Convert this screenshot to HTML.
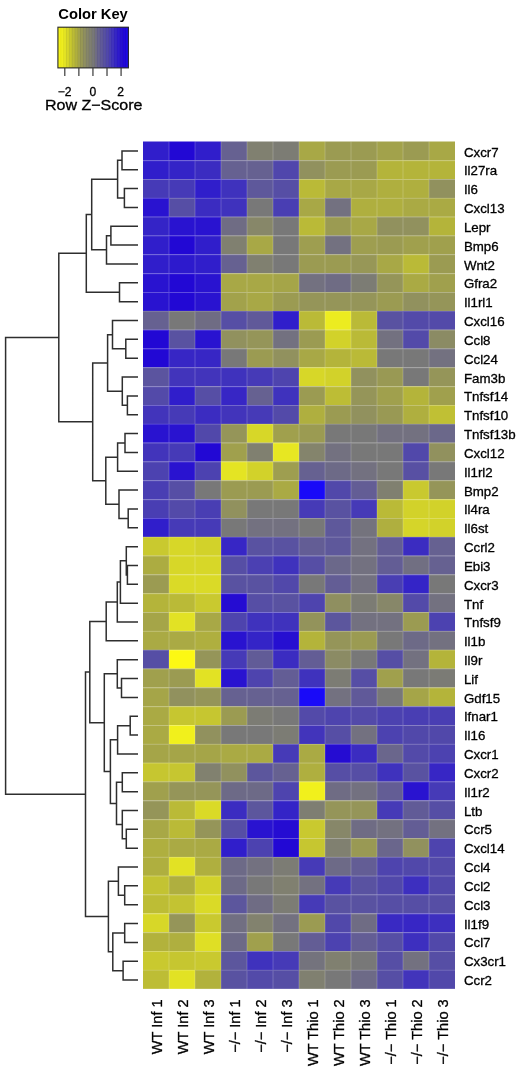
<!DOCTYPE html><html><head><meta charset="utf-8"><style>html,body{margin:0;padding:0;background:#fff;}svg{display:block;filter:blur(0.35px);}text{font-family:"Liberation Sans",sans-serif;}</style></head><body>
<svg width="520" height="1072" viewBox="0 0 520 1072">
<rect x="0" y="0" width="520" height="1072" fill="#fff"/>
<g>
<rect x="143.00" y="141.50" width="26.00" height="18.88" fill="#301ecb"/>
<rect x="169.00" y="141.50" width="26.00" height="18.88" fill="#2208d4"/>
<rect x="195.00" y="141.50" width="26.00" height="18.88" fill="#301ecb"/>
<rect x="221.00" y="141.50" width="26.00" height="18.88" fill="#666191"/>
<rect x="247.00" y="141.50" width="26.00" height="18.88" fill="#808070"/>
<rect x="273.00" y="141.50" width="26.00" height="18.88" fill="#7c7c74"/>
<rect x="299.00" y="141.50" width="26.00" height="18.88" fill="#a8a846"/>
<rect x="325.00" y="141.50" width="26.00" height="18.88" fill="#9b9b52"/>
<rect x="351.00" y="141.50" width="26.00" height="18.88" fill="#9b9b52"/>
<rect x="377.00" y="141.50" width="26.00" height="18.88" fill="#a2a24b"/>
<rect x="403.00" y="141.50" width="26.00" height="18.88" fill="#9b9b52"/>
<rect x="429.00" y="141.50" width="26.00" height="18.88" fill="#a8a846"/>
<rect x="143.00" y="160.33" width="26.00" height="18.88" fill="#301ecb"/>
<rect x="169.00" y="160.33" width="26.00" height="18.88" fill="#3424c7"/>
<rect x="195.00" y="160.33" width="26.00" height="18.88" fill="#3b2cc1"/>
<rect x="221.00" y="160.33" width="26.00" height="18.88" fill="#666191"/>
<rect x="247.00" y="160.33" width="26.00" height="18.88" fill="#666191"/>
<rect x="273.00" y="160.33" width="26.00" height="18.88" fill="#5046ac"/>
<rect x="299.00" y="160.33" width="26.00" height="18.88" fill="#91915e"/>
<rect x="325.00" y="160.33" width="26.00" height="18.88" fill="#9b9b52"/>
<rect x="351.00" y="160.33" width="26.00" height="18.88" fill="#9b9b52"/>
<rect x="377.00" y="160.33" width="26.00" height="18.88" fill="#b4b43a"/>
<rect x="403.00" y="160.33" width="26.00" height="18.88" fill="#b4b43a"/>
<rect x="429.00" y="160.33" width="26.00" height="18.88" fill="#b4b43a"/>
<rect x="143.00" y="179.16" width="26.00" height="18.88" fill="#463ab7"/>
<rect x="169.00" y="179.16" width="26.00" height="18.88" fill="#463ab7"/>
<rect x="195.00" y="179.16" width="26.00" height="18.88" fill="#301ecb"/>
<rect x="221.00" y="179.16" width="26.00" height="18.88" fill="#3f32bd"/>
<rect x="247.00" y="179.16" width="26.00" height="18.88" fill="#5e589b"/>
<rect x="273.00" y="179.16" width="26.00" height="18.88" fill="#564ea5"/>
<rect x="299.00" y="179.16" width="26.00" height="18.88" fill="#baba37"/>
<rect x="325.00" y="179.16" width="26.00" height="18.88" fill="#a8a846"/>
<rect x="351.00" y="179.16" width="26.00" height="18.88" fill="#a8a846"/>
<rect x="377.00" y="179.16" width="26.00" height="18.88" fill="#afaf3f"/>
<rect x="403.00" y="179.16" width="26.00" height="18.88" fill="#afaf3f"/>
<rect x="429.00" y="179.16" width="26.00" height="18.88" fill="#91915e"/>
<rect x="143.00" y="197.99" width="26.00" height="18.88" fill="#2913d0"/>
<rect x="169.00" y="197.99" width="26.00" height="18.88" fill="#564ea5"/>
<rect x="195.00" y="197.99" width="26.00" height="18.88" fill="#3b2cc1"/>
<rect x="221.00" y="197.99" width="26.00" height="18.88" fill="#3f32bd"/>
<rect x="247.00" y="197.99" width="26.00" height="18.88" fill="#787878"/>
<rect x="273.00" y="197.99" width="26.00" height="18.88" fill="#493eb3"/>
<rect x="299.00" y="197.99" width="26.00" height="18.88" fill="#a8a846"/>
<rect x="325.00" y="197.99" width="26.00" height="18.88" fill="#737180"/>
<rect x="351.00" y="197.99" width="26.00" height="18.88" fill="#afaf3f"/>
<rect x="377.00" y="197.99" width="26.00" height="18.88" fill="#afaf3f"/>
<rect x="403.00" y="197.99" width="26.00" height="18.88" fill="#aaaa44"/>
<rect x="429.00" y="197.99" width="26.00" height="18.88" fill="#aaaa44"/>
<rect x="143.00" y="216.82" width="26.00" height="18.88" fill="#3424c7"/>
<rect x="169.00" y="216.82" width="26.00" height="18.88" fill="#2913d0"/>
<rect x="195.00" y="216.82" width="26.00" height="18.88" fill="#2913d0"/>
<rect x="221.00" y="216.82" width="26.00" height="18.88" fill="#6f6c84"/>
<rect x="247.00" y="216.82" width="26.00" height="18.88" fill="#878769"/>
<rect x="273.00" y="216.82" width="26.00" height="18.88" fill="#787878"/>
<rect x="299.00" y="216.82" width="26.00" height="18.88" fill="#baba37"/>
<rect x="325.00" y="216.82" width="26.00" height="18.88" fill="#9b9b52"/>
<rect x="351.00" y="216.82" width="26.00" height="18.88" fill="#a8a846"/>
<rect x="377.00" y="216.82" width="26.00" height="18.88" fill="#91915e"/>
<rect x="403.00" y="216.82" width="26.00" height="18.88" fill="#91915e"/>
<rect x="429.00" y="216.82" width="26.00" height="18.88" fill="#b4b43a"/>
<rect x="143.00" y="235.64" width="26.00" height="18.88" fill="#301ecb"/>
<rect x="169.00" y="235.64" width="26.00" height="18.88" fill="#2208d4"/>
<rect x="195.00" y="235.64" width="26.00" height="18.88" fill="#301ecb"/>
<rect x="221.00" y="235.64" width="26.00" height="18.88" fill="#808070"/>
<rect x="247.00" y="235.64" width="26.00" height="18.88" fill="#a8a846"/>
<rect x="273.00" y="235.64" width="26.00" height="18.88" fill="#787878"/>
<rect x="299.00" y="235.64" width="26.00" height="18.88" fill="#9e9e50"/>
<rect x="325.00" y="235.64" width="26.00" height="18.88" fill="#737180"/>
<rect x="351.00" y="235.64" width="26.00" height="18.88" fill="#9e9e50"/>
<rect x="377.00" y="235.64" width="26.00" height="18.88" fill="#9b9b52"/>
<rect x="403.00" y="235.64" width="26.00" height="18.88" fill="#a0a04d"/>
<rect x="429.00" y="235.64" width="26.00" height="18.88" fill="#a0a04d"/>
<rect x="143.00" y="254.47" width="26.00" height="18.88" fill="#301ecb"/>
<rect x="169.00" y="254.47" width="26.00" height="18.88" fill="#2d1acd"/>
<rect x="195.00" y="254.47" width="26.00" height="18.88" fill="#301ecb"/>
<rect x="221.00" y="254.47" width="26.00" height="18.88" fill="#666191"/>
<rect x="247.00" y="254.47" width="26.00" height="18.88" fill="#808070"/>
<rect x="273.00" y="254.47" width="26.00" height="18.88" fill="#787878"/>
<rect x="299.00" y="254.47" width="26.00" height="18.88" fill="#9b9b52"/>
<rect x="325.00" y="254.47" width="26.00" height="18.88" fill="#9b9b52"/>
<rect x="351.00" y="254.47" width="26.00" height="18.88" fill="#979757"/>
<rect x="377.00" y="254.47" width="26.00" height="18.88" fill="#a8a846"/>
<rect x="403.00" y="254.47" width="26.00" height="18.88" fill="#baba37"/>
<rect x="429.00" y="254.47" width="26.00" height="18.88" fill="#9b9b52"/>
<rect x="143.00" y="273.30" width="26.00" height="18.88" fill="#2913d0"/>
<rect x="169.00" y="273.30" width="26.00" height="18.88" fill="#2208d4"/>
<rect x="195.00" y="273.30" width="26.00" height="18.88" fill="#2913d0"/>
<rect x="221.00" y="273.30" width="26.00" height="18.88" fill="#a8a846"/>
<rect x="247.00" y="273.30" width="26.00" height="18.88" fill="#a8a846"/>
<rect x="273.00" y="273.30" width="26.00" height="18.88" fill="#a5a548"/>
<rect x="299.00" y="273.30" width="26.00" height="18.88" fill="#737180"/>
<rect x="325.00" y="273.30" width="26.00" height="18.88" fill="#6f6c84"/>
<rect x="351.00" y="273.30" width="26.00" height="18.88" fill="#7c7c74"/>
<rect x="377.00" y="273.30" width="26.00" height="18.88" fill="#959559"/>
<rect x="403.00" y="273.30" width="26.00" height="18.88" fill="#aaaa44"/>
<rect x="429.00" y="273.30" width="26.00" height="18.88" fill="#a0a04d"/>
<rect x="143.00" y="292.13" width="26.00" height="18.88" fill="#2913d0"/>
<rect x="169.00" y="292.13" width="26.00" height="18.88" fill="#2208d4"/>
<rect x="195.00" y="292.13" width="26.00" height="18.88" fill="#2913d0"/>
<rect x="221.00" y="292.13" width="26.00" height="18.88" fill="#a2a24b"/>
<rect x="247.00" y="292.13" width="26.00" height="18.88" fill="#a8a846"/>
<rect x="273.00" y="292.13" width="26.00" height="18.88" fill="#9b9b52"/>
<rect x="299.00" y="292.13" width="26.00" height="18.88" fill="#959559"/>
<rect x="325.00" y="292.13" width="26.00" height="18.88" fill="#959559"/>
<rect x="351.00" y="292.13" width="26.00" height="18.88" fill="#959559"/>
<rect x="377.00" y="292.13" width="26.00" height="18.88" fill="#9b9b52"/>
<rect x="403.00" y="292.13" width="26.00" height="18.88" fill="#91915e"/>
<rect x="429.00" y="292.13" width="26.00" height="18.88" fill="#959559"/>
<rect x="143.00" y="310.96" width="26.00" height="18.88" fill="#666191"/>
<rect x="169.00" y="310.96" width="26.00" height="18.88" fill="#787878"/>
<rect x="195.00" y="310.96" width="26.00" height="18.88" fill="#6f6c84"/>
<rect x="221.00" y="310.96" width="26.00" height="18.88" fill="#564ea5"/>
<rect x="247.00" y="310.96" width="26.00" height="18.88" fill="#605999"/>
<rect x="273.00" y="310.96" width="26.00" height="18.88" fill="#301ecb"/>
<rect x="299.00" y="310.96" width="26.00" height="18.88" fill="#baba37"/>
<rect x="325.00" y="310.96" width="26.00" height="18.88" fill="#ecec20"/>
<rect x="351.00" y="310.96" width="26.00" height="18.88" fill="#baba37"/>
<rect x="377.00" y="310.96" width="26.00" height="18.88" fill="#5952a1"/>
<rect x="403.00" y="310.96" width="26.00" height="18.88" fill="#534aa9"/>
<rect x="429.00" y="310.96" width="26.00" height="18.88" fill="#534aa9"/>
<rect x="143.00" y="329.79" width="26.00" height="18.88" fill="#2208d4"/>
<rect x="169.00" y="329.79" width="26.00" height="18.88" fill="#5952a1"/>
<rect x="195.00" y="329.79" width="26.00" height="18.88" fill="#2913d0"/>
<rect x="221.00" y="329.79" width="26.00" height="18.88" fill="#91915e"/>
<rect x="247.00" y="329.79" width="26.00" height="18.88" fill="#959559"/>
<rect x="273.00" y="329.79" width="26.00" height="18.88" fill="#737180"/>
<rect x="299.00" y="329.79" width="26.00" height="18.88" fill="#9b9b52"/>
<rect x="325.00" y="329.79" width="26.00" height="18.88" fill="#d2d22a"/>
<rect x="351.00" y="329.79" width="26.00" height="18.88" fill="#baba37"/>
<rect x="377.00" y="329.79" width="26.00" height="18.88" fill="#737180"/>
<rect x="403.00" y="329.79" width="26.00" height="18.88" fill="#534aa9"/>
<rect x="429.00" y="329.79" width="26.00" height="18.88" fill="#8b8b64"/>
<rect x="143.00" y="348.62" width="26.00" height="18.88" fill="#2208d4"/>
<rect x="169.00" y="348.62" width="26.00" height="18.88" fill="#3726c5"/>
<rect x="195.00" y="348.62" width="26.00" height="18.88" fill="#3726c5"/>
<rect x="221.00" y="348.62" width="26.00" height="18.88" fill="#787878"/>
<rect x="247.00" y="348.62" width="26.00" height="18.88" fill="#9b9b52"/>
<rect x="273.00" y="348.62" width="26.00" height="18.88" fill="#91915e"/>
<rect x="299.00" y="348.62" width="26.00" height="18.88" fill="#a8a846"/>
<rect x="325.00" y="348.62" width="26.00" height="18.88" fill="#b4b43a"/>
<rect x="351.00" y="348.62" width="26.00" height="18.88" fill="#baba37"/>
<rect x="377.00" y="348.62" width="26.00" height="18.88" fill="#787878"/>
<rect x="403.00" y="348.62" width="26.00" height="18.88" fill="#787878"/>
<rect x="429.00" y="348.62" width="26.00" height="18.88" fill="#737180"/>
<rect x="143.00" y="367.45" width="26.00" height="18.88" fill="#5b549f"/>
<rect x="169.00" y="367.45" width="26.00" height="18.88" fill="#4234bb"/>
<rect x="195.00" y="367.45" width="26.00" height="18.88" fill="#4234bb"/>
<rect x="221.00" y="367.45" width="26.00" height="18.88" fill="#3f32bd"/>
<rect x="247.00" y="367.45" width="26.00" height="18.88" fill="#463ab7"/>
<rect x="273.00" y="367.45" width="26.00" height="18.88" fill="#4e44ae"/>
<rect x="299.00" y="367.45" width="26.00" height="18.88" fill="#d7d728"/>
<rect x="325.00" y="367.45" width="26.00" height="18.88" fill="#d2d22a"/>
<rect x="351.00" y="367.45" width="26.00" height="18.88" fill="#91915e"/>
<rect x="377.00" y="367.45" width="26.00" height="18.88" fill="#999954"/>
<rect x="403.00" y="367.45" width="26.00" height="18.88" fill="#787878"/>
<rect x="429.00" y="367.45" width="26.00" height="18.88" fill="#959559"/>
<rect x="143.00" y="386.28" width="26.00" height="18.88" fill="#534aa9"/>
<rect x="169.00" y="386.28" width="26.00" height="18.88" fill="#301ecb"/>
<rect x="195.00" y="386.28" width="26.00" height="18.88" fill="#564ea5"/>
<rect x="221.00" y="386.28" width="26.00" height="18.88" fill="#3726c5"/>
<rect x="247.00" y="386.28" width="26.00" height="18.88" fill="#666191"/>
<rect x="273.00" y="386.28" width="26.00" height="18.88" fill="#3f32bd"/>
<rect x="299.00" y="386.28" width="26.00" height="18.88" fill="#9b9b52"/>
<rect x="325.00" y="386.28" width="26.00" height="18.88" fill="#bdbd35"/>
<rect x="351.00" y="386.28" width="26.00" height="18.88" fill="#959559"/>
<rect x="377.00" y="386.28" width="26.00" height="18.88" fill="#a0a04d"/>
<rect x="403.00" y="386.28" width="26.00" height="18.88" fill="#b4b43a"/>
<rect x="429.00" y="386.28" width="26.00" height="18.88" fill="#a0a04d"/>
<rect x="143.00" y="405.10" width="26.00" height="18.88" fill="#4234bb"/>
<rect x="169.00" y="405.10" width="26.00" height="18.88" fill="#463ab7"/>
<rect x="195.00" y="405.10" width="26.00" height="18.88" fill="#3b2cc1"/>
<rect x="221.00" y="405.10" width="26.00" height="18.88" fill="#4234bb"/>
<rect x="247.00" y="405.10" width="26.00" height="18.88" fill="#463ab7"/>
<rect x="273.00" y="405.10" width="26.00" height="18.88" fill="#534aa9"/>
<rect x="299.00" y="405.10" width="26.00" height="18.88" fill="#afaf3f"/>
<rect x="325.00" y="405.10" width="26.00" height="18.88" fill="#9b9b52"/>
<rect x="351.00" y="405.10" width="26.00" height="18.88" fill="#91915e"/>
<rect x="377.00" y="405.10" width="26.00" height="18.88" fill="#999954"/>
<rect x="403.00" y="405.10" width="26.00" height="18.88" fill="#afaf3f"/>
<rect x="429.00" y="405.10" width="26.00" height="18.88" fill="#c0c034"/>
<rect x="143.00" y="423.93" width="26.00" height="18.88" fill="#2913d0"/>
<rect x="169.00" y="423.93" width="26.00" height="18.88" fill="#2913d0"/>
<rect x="195.00" y="423.93" width="26.00" height="18.88" fill="#5148aa"/>
<rect x="221.00" y="423.93" width="26.00" height="18.88" fill="#959559"/>
<rect x="247.00" y="423.93" width="26.00" height="18.88" fill="#d7d728"/>
<rect x="273.00" y="423.93" width="26.00" height="18.88" fill="#a0a04d"/>
<rect x="299.00" y="423.93" width="26.00" height="18.88" fill="#9b9b52"/>
<rect x="325.00" y="423.93" width="26.00" height="18.88" fill="#787878"/>
<rect x="351.00" y="423.93" width="26.00" height="18.88" fill="#787878"/>
<rect x="377.00" y="423.93" width="26.00" height="18.88" fill="#737180"/>
<rect x="403.00" y="423.93" width="26.00" height="18.88" fill="#737180"/>
<rect x="429.00" y="423.93" width="26.00" height="18.88" fill="#6b688a"/>
<rect x="143.00" y="442.76" width="26.00" height="18.88" fill="#4234bb"/>
<rect x="169.00" y="442.76" width="26.00" height="18.88" fill="#463ab7"/>
<rect x="195.00" y="442.76" width="26.00" height="18.88" fill="#2208d4"/>
<rect x="221.00" y="442.76" width="26.00" height="18.88" fill="#a0a04d"/>
<rect x="247.00" y="442.76" width="26.00" height="18.88" fill="#808070"/>
<rect x="273.00" y="442.76" width="26.00" height="18.88" fill="#e7e722"/>
<rect x="299.00" y="442.76" width="26.00" height="18.88" fill="#84846c"/>
<rect x="325.00" y="442.76" width="26.00" height="18.88" fill="#737180"/>
<rect x="351.00" y="442.76" width="26.00" height="18.88" fill="#787878"/>
<rect x="377.00" y="442.76" width="26.00" height="18.88" fill="#787878"/>
<rect x="403.00" y="442.76" width="26.00" height="18.88" fill="#5148aa"/>
<rect x="429.00" y="442.76" width="26.00" height="18.88" fill="#91915e"/>
<rect x="143.00" y="461.59" width="26.00" height="18.88" fill="#4c42b0"/>
<rect x="169.00" y="461.59" width="26.00" height="18.88" fill="#2913d0"/>
<rect x="195.00" y="461.59" width="26.00" height="18.88" fill="#4c42b0"/>
<rect x="221.00" y="461.59" width="26.00" height="18.88" fill="#e4e423"/>
<rect x="247.00" y="461.59" width="26.00" height="18.88" fill="#d2d22a"/>
<rect x="273.00" y="461.59" width="26.00" height="18.88" fill="#9e9e50"/>
<rect x="299.00" y="461.59" width="26.00" height="18.88" fill="#666191"/>
<rect x="325.00" y="461.59" width="26.00" height="18.88" fill="#6d6a87"/>
<rect x="351.00" y="461.59" width="26.00" height="18.88" fill="#737180"/>
<rect x="377.00" y="461.59" width="26.00" height="18.88" fill="#787878"/>
<rect x="403.00" y="461.59" width="26.00" height="18.88" fill="#5850a3"/>
<rect x="429.00" y="461.59" width="26.00" height="18.88" fill="#787878"/>
<rect x="143.00" y="480.42" width="26.00" height="18.88" fill="#493eb3"/>
<rect x="169.00" y="480.42" width="26.00" height="18.88" fill="#564ea5"/>
<rect x="195.00" y="480.42" width="26.00" height="18.88" fill="#787878"/>
<rect x="221.00" y="480.42" width="26.00" height="18.88" fill="#9b9b52"/>
<rect x="247.00" y="480.42" width="26.00" height="18.88" fill="#9b9b52"/>
<rect x="273.00" y="480.42" width="26.00" height="18.88" fill="#aaaa44"/>
<rect x="299.00" y="480.42" width="26.00" height="18.88" fill="#190af8"/>
<rect x="325.00" y="480.42" width="26.00" height="18.88" fill="#5148aa"/>
<rect x="351.00" y="480.42" width="26.00" height="18.88" fill="#635d95"/>
<rect x="377.00" y="480.42" width="26.00" height="18.88" fill="#808070"/>
<rect x="403.00" y="480.42" width="26.00" height="18.88" fill="#c9c92f"/>
<rect x="429.00" y="480.42" width="26.00" height="18.88" fill="#959559"/>
<rect x="143.00" y="499.25" width="26.00" height="18.88" fill="#493eb3"/>
<rect x="169.00" y="499.25" width="26.00" height="18.88" fill="#534aa9"/>
<rect x="195.00" y="499.25" width="26.00" height="18.88" fill="#493eb3"/>
<rect x="221.00" y="499.25" width="26.00" height="18.88" fill="#91915e"/>
<rect x="247.00" y="499.25" width="26.00" height="18.88" fill="#787878"/>
<rect x="273.00" y="499.25" width="26.00" height="18.88" fill="#787878"/>
<rect x="299.00" y="499.25" width="26.00" height="18.88" fill="#463ab7"/>
<rect x="325.00" y="499.25" width="26.00" height="18.88" fill="#5952a1"/>
<rect x="351.00" y="499.25" width="26.00" height="18.88" fill="#463ab7"/>
<rect x="377.00" y="499.25" width="26.00" height="18.88" fill="#baba37"/>
<rect x="403.00" y="499.25" width="26.00" height="18.88" fill="#d2d22a"/>
<rect x="429.00" y="499.25" width="26.00" height="18.88" fill="#d2d22a"/>
<rect x="143.00" y="518.08" width="26.00" height="18.88" fill="#301ecb"/>
<rect x="169.00" y="518.08" width="26.00" height="18.88" fill="#463ab7"/>
<rect x="195.00" y="518.08" width="26.00" height="18.88" fill="#463ab7"/>
<rect x="221.00" y="518.08" width="26.00" height="18.88" fill="#787878"/>
<rect x="247.00" y="518.08" width="26.00" height="18.88" fill="#737180"/>
<rect x="273.00" y="518.08" width="26.00" height="18.88" fill="#737180"/>
<rect x="299.00" y="518.08" width="26.00" height="18.88" fill="#787878"/>
<rect x="325.00" y="518.08" width="26.00" height="18.88" fill="#5e589b"/>
<rect x="351.00" y="518.08" width="26.00" height="18.88" fill="#74737d"/>
<rect x="377.00" y="518.08" width="26.00" height="18.88" fill="#afaf3f"/>
<rect x="403.00" y="518.08" width="26.00" height="18.88" fill="#d5d529"/>
<rect x="429.00" y="518.08" width="26.00" height="18.88" fill="#d2d22a"/>
<rect x="143.00" y="536.91" width="26.00" height="18.88" fill="#c9c92f"/>
<rect x="169.00" y="536.91" width="26.00" height="18.88" fill="#d7d728"/>
<rect x="195.00" y="536.91" width="26.00" height="18.88" fill="#d2d22a"/>
<rect x="221.00" y="536.91" width="26.00" height="18.88" fill="#3726c5"/>
<rect x="247.00" y="536.91" width="26.00" height="18.88" fill="#5952a1"/>
<rect x="273.00" y="536.91" width="26.00" height="18.88" fill="#5952a1"/>
<rect x="299.00" y="536.91" width="26.00" height="18.88" fill="#635d95"/>
<rect x="325.00" y="536.91" width="26.00" height="18.88" fill="#5e589b"/>
<rect x="351.00" y="536.91" width="26.00" height="18.88" fill="#737180"/>
<rect x="377.00" y="536.91" width="26.00" height="18.88" fill="#635d95"/>
<rect x="403.00" y="536.91" width="26.00" height="18.88" fill="#3b2cc1"/>
<rect x="429.00" y="536.91" width="26.00" height="18.88" fill="#666191"/>
<rect x="143.00" y="555.74" width="26.00" height="18.88" fill="#acac41"/>
<rect x="169.00" y="555.74" width="26.00" height="18.88" fill="#d7d728"/>
<rect x="195.00" y="555.74" width="26.00" height="18.88" fill="#d7d728"/>
<rect x="221.00" y="555.74" width="26.00" height="18.88" fill="#564ea5"/>
<rect x="247.00" y="555.74" width="26.00" height="18.88" fill="#4b40b2"/>
<rect x="273.00" y="555.74" width="26.00" height="18.88" fill="#3f32bd"/>
<rect x="299.00" y="555.74" width="26.00" height="18.88" fill="#564ea5"/>
<rect x="325.00" y="555.74" width="26.00" height="18.88" fill="#6b688a"/>
<rect x="351.00" y="555.74" width="26.00" height="18.88" fill="#737180"/>
<rect x="377.00" y="555.74" width="26.00" height="18.88" fill="#635d95"/>
<rect x="403.00" y="555.74" width="26.00" height="18.88" fill="#716f82"/>
<rect x="429.00" y="555.74" width="26.00" height="18.88" fill="#666191"/>
<rect x="143.00" y="574.56" width="26.00" height="18.88" fill="#9b9b52"/>
<rect x="169.00" y="574.56" width="26.00" height="18.88" fill="#dada27"/>
<rect x="195.00" y="574.56" width="26.00" height="18.88" fill="#dada27"/>
<rect x="221.00" y="574.56" width="26.00" height="18.88" fill="#5952a1"/>
<rect x="247.00" y="574.56" width="26.00" height="18.88" fill="#5952a1"/>
<rect x="273.00" y="574.56" width="26.00" height="18.88" fill="#5148aa"/>
<rect x="299.00" y="574.56" width="26.00" height="18.88" fill="#787878"/>
<rect x="325.00" y="574.56" width="26.00" height="18.88" fill="#635d95"/>
<rect x="351.00" y="574.56" width="26.00" height="18.88" fill="#737180"/>
<rect x="377.00" y="574.56" width="26.00" height="18.88" fill="#493eb3"/>
<rect x="403.00" y="574.56" width="26.00" height="18.88" fill="#3424c7"/>
<rect x="429.00" y="574.56" width="26.00" height="18.88" fill="#787878"/>
<rect x="143.00" y="593.39" width="26.00" height="18.88" fill="#b4b43a"/>
<rect x="169.00" y="593.39" width="26.00" height="18.88" fill="#baba37"/>
<rect x="195.00" y="593.39" width="26.00" height="18.88" fill="#c9c92f"/>
<rect x="221.00" y="593.39" width="26.00" height="18.88" fill="#250cd2"/>
<rect x="247.00" y="593.39" width="26.00" height="18.88" fill="#564ea5"/>
<rect x="273.00" y="593.39" width="26.00" height="18.88" fill="#5952a1"/>
<rect x="299.00" y="593.39" width="26.00" height="18.88" fill="#4e44ae"/>
<rect x="325.00" y="593.39" width="26.00" height="18.88" fill="#8f8f60"/>
<rect x="351.00" y="593.39" width="26.00" height="18.88" fill="#7c7c74"/>
<rect x="377.00" y="593.39" width="26.00" height="18.88" fill="#878769"/>
<rect x="403.00" y="593.39" width="26.00" height="18.88" fill="#534aa9"/>
<rect x="429.00" y="593.39" width="26.00" height="18.88" fill="#737180"/>
<rect x="143.00" y="612.22" width="26.00" height="18.88" fill="#a5a548"/>
<rect x="169.00" y="612.22" width="26.00" height="18.88" fill="#e2e224"/>
<rect x="195.00" y="612.22" width="26.00" height="18.88" fill="#a8a846"/>
<rect x="221.00" y="612.22" width="26.00" height="18.88" fill="#4e44ae"/>
<rect x="247.00" y="612.22" width="26.00" height="18.88" fill="#3f32bd"/>
<rect x="273.00" y="612.22" width="26.00" height="18.88" fill="#3f32bd"/>
<rect x="299.00" y="612.22" width="26.00" height="18.88" fill="#93935b"/>
<rect x="325.00" y="612.22" width="26.00" height="18.88" fill="#5c569d"/>
<rect x="351.00" y="612.22" width="26.00" height="18.88" fill="#737180"/>
<rect x="377.00" y="612.22" width="26.00" height="18.88" fill="#737180"/>
<rect x="403.00" y="612.22" width="26.00" height="18.88" fill="#9b9b52"/>
<rect x="429.00" y="612.22" width="26.00" height="18.88" fill="#4c42b0"/>
<rect x="143.00" y="631.05" width="26.00" height="18.88" fill="#aaaa44"/>
<rect x="169.00" y="631.05" width="26.00" height="18.88" fill="#aaaa44"/>
<rect x="195.00" y="631.05" width="26.00" height="18.88" fill="#afaf3f"/>
<rect x="221.00" y="631.05" width="26.00" height="18.88" fill="#2913d0"/>
<rect x="247.00" y="631.05" width="26.00" height="18.88" fill="#3424c7"/>
<rect x="273.00" y="631.05" width="26.00" height="18.88" fill="#260fd1"/>
<rect x="299.00" y="631.05" width="26.00" height="18.88" fill="#b4b43a"/>
<rect x="325.00" y="631.05" width="26.00" height="18.88" fill="#959559"/>
<rect x="351.00" y="631.05" width="26.00" height="18.88" fill="#9b9b52"/>
<rect x="377.00" y="631.05" width="26.00" height="18.88" fill="#787878"/>
<rect x="403.00" y="631.05" width="26.00" height="18.88" fill="#6d6a87"/>
<rect x="429.00" y="631.05" width="26.00" height="18.88" fill="#737180"/>
<rect x="143.00" y="649.88" width="26.00" height="18.88" fill="#564ea5"/>
<rect x="169.00" y="649.88" width="26.00" height="18.88" fill="#fcf814"/>
<rect x="195.00" y="649.88" width="26.00" height="18.88" fill="#959559"/>
<rect x="221.00" y="649.88" width="26.00" height="18.88" fill="#463ab7"/>
<rect x="247.00" y="649.88" width="26.00" height="18.88" fill="#615b97"/>
<rect x="273.00" y="649.88" width="26.00" height="18.88" fill="#3b2cc1"/>
<rect x="299.00" y="649.88" width="26.00" height="18.88" fill="#635d95"/>
<rect x="325.00" y="649.88" width="26.00" height="18.88" fill="#8b8b64"/>
<rect x="351.00" y="649.88" width="26.00" height="18.88" fill="#787878"/>
<rect x="377.00" y="649.88" width="26.00" height="18.88" fill="#564ea5"/>
<rect x="403.00" y="649.88" width="26.00" height="18.88" fill="#737180"/>
<rect x="429.00" y="649.88" width="26.00" height="18.88" fill="#b4b43a"/>
<rect x="143.00" y="668.71" width="26.00" height="18.88" fill="#a0a04d"/>
<rect x="169.00" y="668.71" width="26.00" height="18.88" fill="#9b9b52"/>
<rect x="195.00" y="668.71" width="26.00" height="18.88" fill="#e2e224"/>
<rect x="221.00" y="668.71" width="26.00" height="18.88" fill="#2913d0"/>
<rect x="247.00" y="668.71" width="26.00" height="18.88" fill="#4e44ae"/>
<rect x="273.00" y="668.71" width="26.00" height="18.88" fill="#635d95"/>
<rect x="299.00" y="668.71" width="26.00" height="18.88" fill="#3f32bd"/>
<rect x="325.00" y="668.71" width="26.00" height="18.88" fill="#7c7c74"/>
<rect x="351.00" y="668.71" width="26.00" height="18.88" fill="#564ea5"/>
<rect x="377.00" y="668.71" width="26.00" height="18.88" fill="#a0a04d"/>
<rect x="403.00" y="668.71" width="26.00" height="18.88" fill="#787878"/>
<rect x="429.00" y="668.71" width="26.00" height="18.88" fill="#7b7b75"/>
<rect x="143.00" y="687.54" width="26.00" height="18.88" fill="#a5a548"/>
<rect x="169.00" y="687.54" width="26.00" height="18.88" fill="#91915e"/>
<rect x="195.00" y="687.54" width="26.00" height="18.88" fill="#959559"/>
<rect x="221.00" y="687.54" width="26.00" height="18.88" fill="#666191"/>
<rect x="247.00" y="687.54" width="26.00" height="18.88" fill="#666191"/>
<rect x="273.00" y="687.54" width="26.00" height="18.88" fill="#666191"/>
<rect x="299.00" y="687.54" width="26.00" height="18.88" fill="#190af8"/>
<rect x="325.00" y="687.54" width="26.00" height="18.88" fill="#737180"/>
<rect x="351.00" y="687.54" width="26.00" height="18.88" fill="#605999"/>
<rect x="377.00" y="687.54" width="26.00" height="18.88" fill="#787878"/>
<rect x="403.00" y="687.54" width="26.00" height="18.88" fill="#a5a548"/>
<rect x="429.00" y="687.54" width="26.00" height="18.88" fill="#b4b43a"/>
<rect x="143.00" y="706.37" width="26.00" height="18.88" fill="#aaaa44"/>
<rect x="169.00" y="706.37" width="26.00" height="18.88" fill="#c6c630"/>
<rect x="195.00" y="706.37" width="26.00" height="18.88" fill="#c6c630"/>
<rect x="221.00" y="706.37" width="26.00" height="18.88" fill="#9b9b52"/>
<rect x="247.00" y="706.37" width="26.00" height="18.88" fill="#7c7c74"/>
<rect x="273.00" y="706.37" width="26.00" height="18.88" fill="#787878"/>
<rect x="299.00" y="706.37" width="26.00" height="18.88" fill="#534aa9"/>
<rect x="325.00" y="706.37" width="26.00" height="18.88" fill="#4e44ae"/>
<rect x="351.00" y="706.37" width="26.00" height="18.88" fill="#534aa9"/>
<rect x="377.00" y="706.37" width="26.00" height="18.88" fill="#4c42b0"/>
<rect x="403.00" y="706.37" width="26.00" height="18.88" fill="#493eb3"/>
<rect x="429.00" y="706.37" width="26.00" height="18.88" fill="#493eb3"/>
<rect x="143.00" y="725.20" width="26.00" height="18.88" fill="#aaaa44"/>
<rect x="169.00" y="725.20" width="26.00" height="18.88" fill="#f1f01c"/>
<rect x="195.00" y="725.20" width="26.00" height="18.88" fill="#91915e"/>
<rect x="221.00" y="725.20" width="26.00" height="18.88" fill="#787878"/>
<rect x="247.00" y="725.20" width="26.00" height="18.88" fill="#787878"/>
<rect x="273.00" y="725.20" width="26.00" height="18.88" fill="#7c7c74"/>
<rect x="299.00" y="725.20" width="26.00" height="18.88" fill="#4234bb"/>
<rect x="325.00" y="725.20" width="26.00" height="18.88" fill="#564ea5"/>
<rect x="351.00" y="725.20" width="26.00" height="18.88" fill="#737180"/>
<rect x="377.00" y="725.20" width="26.00" height="18.88" fill="#4c42b0"/>
<rect x="403.00" y="725.20" width="26.00" height="18.88" fill="#5148aa"/>
<rect x="429.00" y="725.20" width="26.00" height="18.88" fill="#5148aa"/>
<rect x="143.00" y="744.02" width="26.00" height="18.88" fill="#a5a548"/>
<rect x="169.00" y="744.02" width="26.00" height="18.88" fill="#a5a548"/>
<rect x="195.00" y="744.02" width="26.00" height="18.88" fill="#a5a548"/>
<rect x="221.00" y="744.02" width="26.00" height="18.88" fill="#aaaa44"/>
<rect x="247.00" y="744.02" width="26.00" height="18.88" fill="#aaaa44"/>
<rect x="273.00" y="744.02" width="26.00" height="18.88" fill="#463ab7"/>
<rect x="299.00" y="744.02" width="26.00" height="18.88" fill="#aaaa44"/>
<rect x="325.00" y="744.02" width="26.00" height="18.88" fill="#250cd2"/>
<rect x="351.00" y="744.02" width="26.00" height="18.88" fill="#3b2cc1"/>
<rect x="377.00" y="744.02" width="26.00" height="18.88" fill="#6a668c"/>
<rect x="403.00" y="744.02" width="26.00" height="18.88" fill="#534aa9"/>
<rect x="429.00" y="744.02" width="26.00" height="18.88" fill="#4c42b0"/>
<rect x="143.00" y="762.85" width="26.00" height="18.88" fill="#c6c630"/>
<rect x="169.00" y="762.85" width="26.00" height="18.88" fill="#c6c630"/>
<rect x="195.00" y="762.85" width="26.00" height="18.88" fill="#81816f"/>
<rect x="221.00" y="762.85" width="26.00" height="18.88" fill="#91915e"/>
<rect x="247.00" y="762.85" width="26.00" height="18.88" fill="#5c569d"/>
<rect x="273.00" y="762.85" width="26.00" height="18.88" fill="#666191"/>
<rect x="299.00" y="762.85" width="26.00" height="18.88" fill="#afaf3f"/>
<rect x="325.00" y="762.85" width="26.00" height="18.88" fill="#564ea5"/>
<rect x="351.00" y="762.85" width="26.00" height="18.88" fill="#564ea5"/>
<rect x="377.00" y="762.85" width="26.00" height="18.88" fill="#3f32bd"/>
<rect x="403.00" y="762.85" width="26.00" height="18.88" fill="#5952a1"/>
<rect x="429.00" y="762.85" width="26.00" height="18.88" fill="#3726c5"/>
<rect x="143.00" y="781.68" width="26.00" height="18.88" fill="#a0a04d"/>
<rect x="169.00" y="781.68" width="26.00" height="18.88" fill="#959559"/>
<rect x="195.00" y="781.68" width="26.00" height="18.88" fill="#959559"/>
<rect x="221.00" y="781.68" width="26.00" height="18.88" fill="#6d6a87"/>
<rect x="247.00" y="781.68" width="26.00" height="18.88" fill="#6d6a87"/>
<rect x="273.00" y="781.68" width="26.00" height="18.88" fill="#4e44ae"/>
<rect x="299.00" y="781.68" width="26.00" height="18.88" fill="#f1f01c"/>
<rect x="325.00" y="781.68" width="26.00" height="18.88" fill="#6f6c84"/>
<rect x="351.00" y="781.68" width="26.00" height="18.88" fill="#737180"/>
<rect x="377.00" y="781.68" width="26.00" height="18.88" fill="#635d95"/>
<rect x="403.00" y="781.68" width="26.00" height="18.88" fill="#2913d0"/>
<rect x="429.00" y="781.68" width="26.00" height="18.88" fill="#463ab7"/>
<rect x="143.00" y="800.51" width="26.00" height="18.88" fill="#959559"/>
<rect x="169.00" y="800.51" width="26.00" height="18.88" fill="#baba37"/>
<rect x="195.00" y="800.51" width="26.00" height="18.88" fill="#dada27"/>
<rect x="221.00" y="800.51" width="26.00" height="18.88" fill="#3b2cc1"/>
<rect x="247.00" y="800.51" width="26.00" height="18.88" fill="#5c569d"/>
<rect x="273.00" y="800.51" width="26.00" height="18.88" fill="#3424c7"/>
<rect x="299.00" y="800.51" width="26.00" height="18.88" fill="#7e7e72"/>
<rect x="325.00" y="800.51" width="26.00" height="18.88" fill="#959559"/>
<rect x="351.00" y="800.51" width="26.00" height="18.88" fill="#959559"/>
<rect x="377.00" y="800.51" width="26.00" height="18.88" fill="#463ab7"/>
<rect x="403.00" y="800.51" width="26.00" height="18.88" fill="#615b97"/>
<rect x="429.00" y="800.51" width="26.00" height="18.88" fill="#564ea5"/>
<rect x="143.00" y="819.34" width="26.00" height="18.88" fill="#a8a846"/>
<rect x="169.00" y="819.34" width="26.00" height="18.88" fill="#baba37"/>
<rect x="195.00" y="819.34" width="26.00" height="18.88" fill="#959559"/>
<rect x="221.00" y="819.34" width="26.00" height="18.88" fill="#564ea5"/>
<rect x="247.00" y="819.34" width="26.00" height="18.88" fill="#2913d0"/>
<rect x="273.00" y="819.34" width="26.00" height="18.88" fill="#250cd2"/>
<rect x="299.00" y="819.34" width="26.00" height="18.88" fill="#c9c92f"/>
<rect x="325.00" y="819.34" width="26.00" height="18.88" fill="#878769"/>
<rect x="351.00" y="819.34" width="26.00" height="18.88" fill="#6f6c84"/>
<rect x="377.00" y="819.34" width="26.00" height="18.88" fill="#737180"/>
<rect x="403.00" y="819.34" width="26.00" height="18.88" fill="#635d95"/>
<rect x="429.00" y="819.34" width="26.00" height="18.88" fill="#737180"/>
<rect x="143.00" y="838.17" width="26.00" height="18.88" fill="#afaf3f"/>
<rect x="169.00" y="838.17" width="26.00" height="18.88" fill="#aaaa44"/>
<rect x="195.00" y="838.17" width="26.00" height="18.88" fill="#aaaa44"/>
<rect x="221.00" y="838.17" width="26.00" height="18.88" fill="#301ecb"/>
<rect x="247.00" y="838.17" width="26.00" height="18.88" fill="#4c42b0"/>
<rect x="273.00" y="838.17" width="26.00" height="18.88" fill="#2208d4"/>
<rect x="299.00" y="838.17" width="26.00" height="18.88" fill="#c6c630"/>
<rect x="325.00" y="838.17" width="26.00" height="18.88" fill="#808070"/>
<rect x="351.00" y="838.17" width="26.00" height="18.88" fill="#999954"/>
<rect x="377.00" y="838.17" width="26.00" height="18.88" fill="#6a668c"/>
<rect x="403.00" y="838.17" width="26.00" height="18.88" fill="#91915e"/>
<rect x="429.00" y="838.17" width="26.00" height="18.88" fill="#4e44ae"/>
<rect x="143.00" y="857.00" width="26.00" height="18.88" fill="#afaf3f"/>
<rect x="169.00" y="857.00" width="26.00" height="18.88" fill="#e2e224"/>
<rect x="195.00" y="857.00" width="26.00" height="18.88" fill="#afaf3f"/>
<rect x="221.00" y="857.00" width="26.00" height="18.88" fill="#6d6a87"/>
<rect x="247.00" y="857.00" width="26.00" height="18.88" fill="#737180"/>
<rect x="273.00" y="857.00" width="26.00" height="18.88" fill="#7c7c74"/>
<rect x="299.00" y="857.00" width="26.00" height="18.88" fill="#463ab7"/>
<rect x="325.00" y="857.00" width="26.00" height="18.88" fill="#6d6a87"/>
<rect x="351.00" y="857.00" width="26.00" height="18.88" fill="#635d95"/>
<rect x="377.00" y="857.00" width="26.00" height="18.88" fill="#4e44ae"/>
<rect x="403.00" y="857.00" width="26.00" height="18.88" fill="#5148aa"/>
<rect x="429.00" y="857.00" width="26.00" height="18.88" fill="#534aa9"/>
<rect x="143.00" y="875.83" width="26.00" height="18.88" fill="#c3c332"/>
<rect x="169.00" y="875.83" width="26.00" height="18.88" fill="#afaf3f"/>
<rect x="195.00" y="875.83" width="26.00" height="18.88" fill="#d2d22a"/>
<rect x="221.00" y="875.83" width="26.00" height="18.88" fill="#6d6a87"/>
<rect x="247.00" y="875.83" width="26.00" height="18.88" fill="#787878"/>
<rect x="273.00" y="875.83" width="26.00" height="18.88" fill="#808070"/>
<rect x="299.00" y="875.83" width="26.00" height="18.88" fill="#737180"/>
<rect x="325.00" y="875.83" width="26.00" height="18.88" fill="#463ab7"/>
<rect x="351.00" y="875.83" width="26.00" height="18.88" fill="#5952a1"/>
<rect x="377.00" y="875.83" width="26.00" height="18.88" fill="#5148aa"/>
<rect x="403.00" y="875.83" width="26.00" height="18.88" fill="#3d2fbf"/>
<rect x="429.00" y="875.83" width="26.00" height="18.88" fill="#5148aa"/>
<rect x="143.00" y="894.66" width="26.00" height="18.88" fill="#bdbd35"/>
<rect x="169.00" y="894.66" width="26.00" height="18.88" fill="#c3c332"/>
<rect x="195.00" y="894.66" width="26.00" height="18.88" fill="#dada27"/>
<rect x="221.00" y="894.66" width="26.00" height="18.88" fill="#5c569d"/>
<rect x="247.00" y="894.66" width="26.00" height="18.88" fill="#6f6c84"/>
<rect x="273.00" y="894.66" width="26.00" height="18.88" fill="#7c7c74"/>
<rect x="299.00" y="894.66" width="26.00" height="18.88" fill="#463ab7"/>
<rect x="325.00" y="894.66" width="26.00" height="18.88" fill="#5952a1"/>
<rect x="351.00" y="894.66" width="26.00" height="18.88" fill="#5952a1"/>
<rect x="377.00" y="894.66" width="26.00" height="18.88" fill="#564ea5"/>
<rect x="403.00" y="894.66" width="26.00" height="18.88" fill="#564ea5"/>
<rect x="429.00" y="894.66" width="26.00" height="18.88" fill="#564ea5"/>
<rect x="143.00" y="913.48" width="26.00" height="18.88" fill="#d7d728"/>
<rect x="169.00" y="913.48" width="26.00" height="18.88" fill="#959559"/>
<rect x="195.00" y="913.48" width="26.00" height="18.88" fill="#c9c92f"/>
<rect x="221.00" y="913.48" width="26.00" height="18.88" fill="#716f82"/>
<rect x="247.00" y="913.48" width="26.00" height="18.88" fill="#82826e"/>
<rect x="273.00" y="913.48" width="26.00" height="18.88" fill="#737180"/>
<rect x="299.00" y="913.48" width="26.00" height="18.88" fill="#9b9b52"/>
<rect x="325.00" y="913.48" width="26.00" height="18.88" fill="#5148aa"/>
<rect x="351.00" y="913.48" width="26.00" height="18.88" fill="#6f6c84"/>
<rect x="377.00" y="913.48" width="26.00" height="18.88" fill="#3929c3"/>
<rect x="403.00" y="913.48" width="26.00" height="18.88" fill="#3726c5"/>
<rect x="429.00" y="913.48" width="26.00" height="18.88" fill="#3d2fbf"/>
<rect x="143.00" y="932.31" width="26.00" height="18.88" fill="#b2b23c"/>
<rect x="169.00" y="932.31" width="26.00" height="18.88" fill="#afaf3f"/>
<rect x="195.00" y="932.31" width="26.00" height="18.88" fill="#dfdf25"/>
<rect x="221.00" y="932.31" width="26.00" height="18.88" fill="#6d6a87"/>
<rect x="247.00" y="932.31" width="26.00" height="18.88" fill="#a0a04d"/>
<rect x="273.00" y="932.31" width="26.00" height="18.88" fill="#787878"/>
<rect x="299.00" y="932.31" width="26.00" height="18.88" fill="#635d95"/>
<rect x="325.00" y="932.31" width="26.00" height="18.88" fill="#4c42b0"/>
<rect x="351.00" y="932.31" width="26.00" height="18.88" fill="#635d95"/>
<rect x="377.00" y="932.31" width="26.00" height="18.88" fill="#564ea5"/>
<rect x="403.00" y="932.31" width="26.00" height="18.88" fill="#3d2fbf"/>
<rect x="429.00" y="932.31" width="26.00" height="18.88" fill="#5148aa"/>
<rect x="143.00" y="951.14" width="26.00" height="18.88" fill="#c9c92f"/>
<rect x="169.00" y="951.14" width="26.00" height="18.88" fill="#c6c630"/>
<rect x="195.00" y="951.14" width="26.00" height="18.88" fill="#c9c92f"/>
<rect x="221.00" y="951.14" width="26.00" height="18.88" fill="#5c569d"/>
<rect x="247.00" y="951.14" width="26.00" height="18.88" fill="#3f32bd"/>
<rect x="273.00" y="951.14" width="26.00" height="18.88" fill="#463ab7"/>
<rect x="299.00" y="951.14" width="26.00" height="18.88" fill="#74737d"/>
<rect x="325.00" y="951.14" width="26.00" height="18.88" fill="#808070"/>
<rect x="351.00" y="951.14" width="26.00" height="18.88" fill="#787878"/>
<rect x="377.00" y="951.14" width="26.00" height="18.88" fill="#564ea5"/>
<rect x="403.00" y="951.14" width="26.00" height="18.88" fill="#737180"/>
<rect x="429.00" y="951.14" width="26.00" height="18.88" fill="#564ea5"/>
<rect x="143.00" y="969.97" width="26.00" height="18.88" fill="#bdbd35"/>
<rect x="169.00" y="969.97" width="26.00" height="18.88" fill="#e2e224"/>
<rect x="195.00" y="969.97" width="26.00" height="18.88" fill="#b2b23c"/>
<rect x="221.00" y="969.97" width="26.00" height="18.88" fill="#5952a1"/>
<rect x="247.00" y="969.97" width="26.00" height="18.88" fill="#534aa9"/>
<rect x="273.00" y="969.97" width="26.00" height="18.88" fill="#564ea5"/>
<rect x="299.00" y="969.97" width="26.00" height="18.88" fill="#808070"/>
<rect x="325.00" y="969.97" width="26.00" height="18.88" fill="#787878"/>
<rect x="351.00" y="969.97" width="26.00" height="18.88" fill="#6d6a87"/>
<rect x="377.00" y="969.97" width="26.00" height="18.88" fill="#564ea5"/>
<rect x="403.00" y="969.97" width="26.00" height="18.88" fill="#4234bb"/>
<rect x="429.00" y="969.97" width="26.00" height="18.88" fill="#5148aa"/>
</g>
<path d="M169.00 141.50V988.80M195.00 141.50V988.80M221.00 141.50V988.80M247.00 141.50V988.80M273.00 141.50V988.80M299.00 141.50V988.80M325.00 141.50V988.80M351.00 141.50V988.80M377.00 141.50V988.80M403.00 141.50V988.80M429.00 141.50V988.80M143.00 160.68H455.00M143.00 179.51H455.00M143.00 198.34H455.00M143.00 217.17H455.00M143.00 235.99H455.00M143.00 254.82H455.00M143.00 273.65H455.00M143.00 292.48H455.00M143.00 311.31H455.00M143.00 330.14H455.00M143.00 348.97H455.00M143.00 367.80H455.00M143.00 386.63H455.00M143.00 405.45H455.00M143.00 424.28H455.00M143.00 443.11H455.00M143.00 461.94H455.00M143.00 480.77H455.00M143.00 499.60H455.00M143.00 518.43H455.00M143.00 537.26H455.00M143.00 556.09H455.00M143.00 574.91H455.00M143.00 593.74H455.00M143.00 612.57H455.00M143.00 631.40H455.00M143.00 650.23H455.00M143.00 669.06H455.00M143.00 687.89H455.00M143.00 706.72H455.00M143.00 725.55H455.00M143.00 744.37H455.00M143.00 763.20H455.00M143.00 782.03H455.00M143.00 800.86H455.00M143.00 819.69H455.00M143.00 838.52H455.00M143.00 857.35H455.00M143.00 876.18H455.00M143.00 895.01H455.00M143.00 913.83H455.00M143.00 932.66H455.00M143.00 951.49H455.00M143.00 970.32H455.00" stroke="#ffffff" stroke-opacity="0.19" stroke-width="1.1" fill="none"/>
<path d="M138.00 150.90H122.00V169.75H138.00M138.00 188.59H124.40V207.44H138.00M122.00 160.32H117.60V198.01H124.40M138.00 226.28H110.90V245.12H138.00M110.90 235.70H106.50V263.97H138.00M117.60 179.17H91.70V249.84H106.50M138.00 282.81H119.50V301.66H138.00M91.70 214.50H86.30V292.24H119.50M138.00 339.35H125.80V358.19H138.00M138.00 320.50H112.50V348.77H125.80M138.00 395.88H127.40V414.73H138.00M138.00 377.04H122.30V405.31H127.40M112.50 334.64H107.60V391.17H122.30M138.00 433.57H125.00V452.42H138.00M125.00 443.00H117.60V471.26H138.00M138.00 508.95H128.20V527.80H138.00M138.00 490.11H119.00V518.38H128.20M117.60 457.13H105.80V504.24H119.00M107.60 362.91H92.70V480.69H105.80M86.30 253.37H58.80V421.80H92.70M138.00 565.49H127.40V584.33H138.00M138.00 546.64H126.30V574.91H127.40M126.30 560.78H120.40V603.18H138.00M120.40 581.98H117.30V622.02H138.00M117.30 602.00H106.20V640.87H138.00M138.00 678.56H121.50V697.40H138.00M138.00 659.71H117.30V687.98H121.50M138.00 716.25H130.20V735.09H138.00M130.20 725.67H117.60V753.94H138.00M138.00 772.78H122.30V791.63H138.00M138.00 829.32H126.30V848.16H138.00M138.00 810.47H122.30V838.74H126.30M122.30 782.21H116.50V824.61H122.30M117.60 739.81H110.40V803.41H116.50M117.30 673.85H104.30V771.61H110.40M106.20 621.44H89.80V722.73H104.30M138.00 885.85H124.70V904.70H138.00M138.00 867.01H118.40V895.28H124.70M138.00 923.54H124.70V942.39H138.00M138.00 961.23H123.10V980.08H138.00M124.70 932.97H112.80V970.66H123.10M118.40 881.14H108.40V951.81H112.80M89.80 672.08H85.50V916.48H108.40M58.80 337.58H5.60V794.28H85.50" stroke="#2e2e2e" stroke-width="1.5" fill="none" stroke-linejoin="miter" stroke-linecap="butt"/>
<text x="463.9" y="156.60" font-size="13.3" fill="#000" stroke="#000" stroke-width="0.3">Cxcr7</text>
<text x="463.9" y="175.43" font-size="13.3" fill="#000" stroke="#000" stroke-width="0.3">Il27ra</text>
<text x="463.9" y="194.26" font-size="13.3" fill="#000" stroke="#000" stroke-width="0.3">Il6</text>
<text x="463.9" y="213.09" font-size="13.3" fill="#000" stroke="#000" stroke-width="0.3">Cxcl13</text>
<text x="463.9" y="231.92" font-size="13.3" fill="#000" stroke="#000" stroke-width="0.3">Lepr</text>
<text x="463.9" y="250.75" font-size="13.3" fill="#000" stroke="#000" stroke-width="0.3">Bmp6</text>
<text x="463.9" y="269.58" font-size="13.3" fill="#000" stroke="#000" stroke-width="0.3">Wnt2</text>
<text x="463.9" y="288.41" font-size="13.3" fill="#000" stroke="#000" stroke-width="0.3">Gfra2</text>
<text x="463.9" y="307.23" font-size="13.3" fill="#000" stroke="#000" stroke-width="0.3">Il1rl1</text>
<text x="463.9" y="326.06" font-size="13.3" fill="#000" stroke="#000" stroke-width="0.3">Cxcl16</text>
<text x="463.9" y="344.89" font-size="13.3" fill="#000" stroke="#000" stroke-width="0.3">Ccl8</text>
<text x="463.9" y="363.72" font-size="13.3" fill="#000" stroke="#000" stroke-width="0.3">Ccl24</text>
<text x="463.9" y="382.55" font-size="13.3" fill="#000" stroke="#000" stroke-width="0.3">Fam3b</text>
<text x="463.9" y="401.38" font-size="13.3" fill="#000" stroke="#000" stroke-width="0.3">Tnfsf14</text>
<text x="463.9" y="420.21" font-size="13.3" fill="#000" stroke="#000" stroke-width="0.3">Tnfsf10</text>
<text x="463.9" y="439.04" font-size="13.3" fill="#000" stroke="#000" stroke-width="0.3">Tnfsf13b</text>
<text x="463.9" y="457.87" font-size="13.3" fill="#000" stroke="#000" stroke-width="0.3">Cxcl12</text>
<text x="463.9" y="476.69" font-size="13.3" fill="#000" stroke="#000" stroke-width="0.3">Il1rl2</text>
<text x="463.9" y="495.52" font-size="13.3" fill="#000" stroke="#000" stroke-width="0.3">Bmp2</text>
<text x="463.9" y="514.35" font-size="13.3" fill="#000" stroke="#000" stroke-width="0.3">Il4ra</text>
<text x="463.9" y="533.18" font-size="13.3" fill="#000" stroke="#000" stroke-width="0.3">Il6st</text>
<text x="463.9" y="552.01" font-size="13.3" fill="#000" stroke="#000" stroke-width="0.3">Ccrl2</text>
<text x="463.9" y="570.84" font-size="13.3" fill="#000" stroke="#000" stroke-width="0.3">Ebi3</text>
<text x="463.9" y="589.67" font-size="13.3" fill="#000" stroke="#000" stroke-width="0.3">Cxcr3</text>
<text x="463.9" y="608.50" font-size="13.3" fill="#000" stroke="#000" stroke-width="0.3">Tnf</text>
<text x="463.9" y="627.33" font-size="13.3" fill="#000" stroke="#000" stroke-width="0.3">Tnfsf9</text>
<text x="463.9" y="646.15" font-size="13.3" fill="#000" stroke="#000" stroke-width="0.3">Il1b</text>
<text x="463.9" y="664.98" font-size="13.3" fill="#000" stroke="#000" stroke-width="0.3">Il9r</text>
<text x="463.9" y="683.81" font-size="13.3" fill="#000" stroke="#000" stroke-width="0.3">Lif</text>
<text x="463.9" y="702.64" font-size="13.3" fill="#000" stroke="#000" stroke-width="0.3">Gdf15</text>
<text x="463.9" y="721.47" font-size="13.3" fill="#000" stroke="#000" stroke-width="0.3">Ifnar1</text>
<text x="463.9" y="740.30" font-size="13.3" fill="#000" stroke="#000" stroke-width="0.3">Il16</text>
<text x="463.9" y="759.13" font-size="13.3" fill="#000" stroke="#000" stroke-width="0.3">Cxcr1</text>
<text x="463.9" y="777.96" font-size="13.3" fill="#000" stroke="#000" stroke-width="0.3">Cxcr2</text>
<text x="463.9" y="796.79" font-size="13.3" fill="#000" stroke="#000" stroke-width="0.3">Il1r2</text>
<text x="463.9" y="815.61" font-size="13.3" fill="#000" stroke="#000" stroke-width="0.3">Ltb</text>
<text x="463.9" y="834.44" font-size="13.3" fill="#000" stroke="#000" stroke-width="0.3">Ccr5</text>
<text x="463.9" y="853.27" font-size="13.3" fill="#000" stroke="#000" stroke-width="0.3">Cxcl14</text>
<text x="463.9" y="872.10" font-size="13.3" fill="#000" stroke="#000" stroke-width="0.3">Ccl4</text>
<text x="463.9" y="890.93" font-size="13.3" fill="#000" stroke="#000" stroke-width="0.3">Ccl2</text>
<text x="463.9" y="909.76" font-size="13.3" fill="#000" stroke="#000" stroke-width="0.3">Ccl3</text>
<text x="463.9" y="928.59" font-size="13.3" fill="#000" stroke="#000" stroke-width="0.3">Il1f9</text>
<text x="463.9" y="947.42" font-size="13.3" fill="#000" stroke="#000" stroke-width="0.3">Ccl7</text>
<text x="463.9" y="966.25" font-size="13.3" fill="#000" stroke="#000" stroke-width="0.3">Cx3cr1</text>
<text x="463.9" y="985.07" font-size="13.3" fill="#000" stroke="#000" stroke-width="0.3">Ccr2</text>
<text transform="translate(162.34,999.3) rotate(-90)" text-anchor="end" font-size="14.6" fill="#000" stroke="#000" stroke-width="0.3">WT Inf 1</text>
<text transform="translate(188.34,999.3) rotate(-90)" text-anchor="end" font-size="14.6" fill="#000" stroke="#000" stroke-width="0.3">WT Inf 2</text>
<text transform="translate(214.34,999.3) rotate(-90)" text-anchor="end" font-size="14.6" fill="#000" stroke="#000" stroke-width="0.3">WT Inf 3</text>
<text transform="translate(240.34,999.3) rotate(-90)" text-anchor="end" font-size="14.6" fill="#000" stroke="#000" stroke-width="0.3">−/− Inf 1</text>
<text transform="translate(266.34,999.3) rotate(-90)" text-anchor="end" font-size="14.6" fill="#000" stroke="#000" stroke-width="0.3">−/− Inf 2</text>
<text transform="translate(292.34,999.3) rotate(-90)" text-anchor="end" font-size="14.6" fill="#000" stroke="#000" stroke-width="0.3">−/− Inf 3</text>
<text transform="translate(318.34,999.3) rotate(-90)" text-anchor="end" font-size="14.6" fill="#000" stroke="#000" stroke-width="0.3">WT Thio 1</text>
<text transform="translate(344.34,999.3) rotate(-90)" text-anchor="end" font-size="14.6" fill="#000" stroke="#000" stroke-width="0.3">WT Thio 2</text>
<text transform="translate(370.34,999.3) rotate(-90)" text-anchor="end" font-size="14.6" fill="#000" stroke="#000" stroke-width="0.3">WT Thio 3</text>
<text transform="translate(396.34,999.3) rotate(-90)" text-anchor="end" font-size="14.6" fill="#000" stroke="#000" stroke-width="0.3">−/− Thio 1</text>
<text transform="translate(422.34,999.3) rotate(-90)" text-anchor="end" font-size="14.6" fill="#000" stroke="#000" stroke-width="0.3">−/− Thio 2</text>
<text transform="translate(448.34,999.3) rotate(-90)" text-anchor="end" font-size="14.6" fill="#000" stroke="#000" stroke-width="0.3">−/− Thio 3</text>
<g shape-rendering="crispEdges">
<rect x="57.90" y="27.20" width="3.12" height="40.70" fill="#f5f319"/>
<rect x="60.72" y="27.20" width="3.12" height="40.70" fill="#eeed1f"/>
<rect x="63.54" y="27.20" width="3.12" height="40.70" fill="#e3e324"/>
<rect x="66.36" y="27.20" width="3.12" height="40.70" fill="#d7d728"/>
<rect x="69.18" y="27.20" width="3.12" height="40.70" fill="#c9c92f"/>
<rect x="72.00" y="27.20" width="3.12" height="40.70" fill="#bbbb36"/>
<rect x="74.82" y="27.20" width="3.12" height="40.70" fill="#afaf3f"/>
<rect x="77.64" y="27.20" width="3.12" height="40.70" fill="#a3a34a"/>
<rect x="80.46" y="27.20" width="3.12" height="40.70" fill="#989855"/>
<rect x="83.28" y="27.20" width="3.12" height="40.70" fill="#8f8f60"/>
<rect x="86.10" y="27.20" width="3.12" height="40.70" fill="#86866a"/>
<rect x="88.92" y="27.20" width="3.12" height="40.70" fill="#7f7f71"/>
<rect x="91.74" y="27.20" width="3.12" height="40.70" fill="#787878"/>
<rect x="94.56" y="27.20" width="3.12" height="40.70" fill="#706d84"/>
<rect x="97.38" y="27.20" width="3.12" height="40.70" fill="#67638f"/>
<rect x="100.20" y="27.20" width="3.12" height="40.70" fill="#605a99"/>
<rect x="103.02" y="27.20" width="3.12" height="40.70" fill="#5851a2"/>
<rect x="105.84" y="27.20" width="3.12" height="40.70" fill="#5148ab"/>
<rect x="108.66" y="27.20" width="3.12" height="40.70" fill="#493eb3"/>
<rect x="111.48" y="27.20" width="3.12" height="40.70" fill="#4133bc"/>
<rect x="114.30" y="27.20" width="3.12" height="40.70" fill="#3626c5"/>
<rect x="117.12" y="27.20" width="3.12" height="40.70" fill="#2e1acd"/>
<rect x="119.94" y="27.20" width="3.12" height="40.70" fill="#2710d1"/>
<rect x="122.76" y="27.20" width="3.12" height="40.70" fill="#2108d8"/>
<rect x="125.58" y="27.20" width="3.12" height="40.70" fill="#1d09e8"/>
</g>
<path d="M60.72 27.20V67.90M63.54 27.20V67.90M66.36 27.20V67.90M69.18 27.20V67.90M72.00 27.20V67.90M74.82 27.20V67.90M77.64 27.20V67.90M80.46 27.20V67.90M83.28 27.20V67.90M86.10 27.20V67.90M88.92 27.20V67.90M91.74 27.20V67.90M94.56 27.20V67.90M97.38 27.20V67.90M100.20 27.20V67.90M103.02 27.20V67.90M105.84 27.20V67.90M108.66 27.20V67.90M111.48 27.20V67.90M114.30 27.20V67.90M117.12 27.20V67.90M119.94 27.20V67.90M122.76 27.20V67.90M125.58 27.20V67.90" stroke="#000" stroke-opacity="0.07" stroke-width="0.8" fill="none"/>
<rect x="57.90" y="27.20" width="70.50" height="40.70" fill="none" stroke="#2a2a2a" stroke-width="1.1"/>
<path d="M64.80 67.90V76.1M78.87 67.90V76.1M92.94 67.90V76.1M107.01 67.90V76.1M121.08 67.90V76.1" stroke="#3a3a3a" stroke-width="1.2" fill="none"/>
<text x="64.60" y="95.5" font-size="12.1" text-anchor="middle" fill="#000" stroke="#000" stroke-width="0.3">−2</text>
<text x="92.80" y="95.5" font-size="12.1" text-anchor="middle" fill="#000" stroke="#000" stroke-width="0.3">0</text>
<text x="120.60" y="95.5" font-size="12.1" text-anchor="middle" fill="#000" stroke="#000" stroke-width="0.3">2</text>
<text x="58.3" y="18.5" font-size="15.2" font-weight="bold" fill="#000" textLength="69.5" lengthAdjust="spacingAndGlyphs">Color Key</text>
<text x="44.9" y="109.8" font-size="15" fill="#000" stroke="#000" stroke-width="0.3" textLength="97.6" lengthAdjust="spacingAndGlyphs">Row Z−Score</text>
</svg></body></html>
